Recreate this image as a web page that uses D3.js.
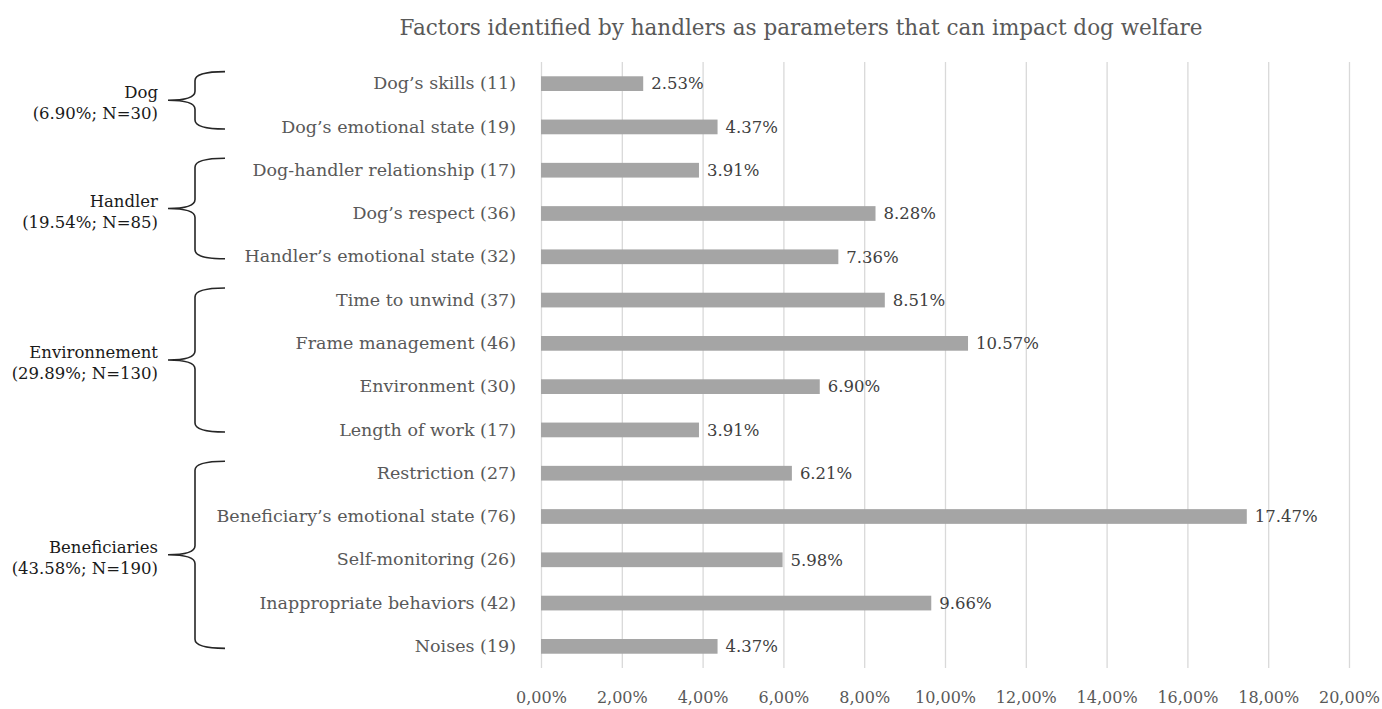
<!DOCTYPE html>
<html lang="en">
<head>
  <meta charset="UTF-8">
  <title>Dog welfare factors</title>
  <style>
    body { margin: 0; background: #fff; }
    text { font-family: 'DejaVu Serif', 'Liberation Serif', serif; }
  </style>
</head>
<body>
  <svg id="mainsvg" width="1382" height="709"></svg>
  <script src="https://cdn.jsdelivr.net/npm/d3@7"></script>
  <script>
    // categories, top to bottom
    const categories = [
      'Dog’s skills', 'Dog’s emotional state',
      'Dog-handler relationship', 'Dog’s respect', 'Handler’s emotional state',
      'Time to unwind', 'Frame management', 'Environment', 'Length of work',
      'Restriction', 'Beneficiary’s emotional state', 'Self-monitoring',
      'Inappropriate behaviors', 'Noises'
    ]
    const counts = [11, 19, 17, 36, 32, 37, 46, 30, 17, 27, 76, 26, 42, 19]
    const percents = [2.53, 4.37, 3.91, 8.28, 7.36, 8.51, 10.57, 6.90, 3.91, 6.21, 17.47, 5.98, 9.66, 4.37]

    // groups (brackets on the left)
    const groupNames = ['Dog', 'Handler', 'Environnement', 'Beneficiaries']
    const groupPercents = [6.90, 19.54, 29.89, 43.58]
    const groupN = [30, 85, 130, 190]
    const groupSizes = [2, 3, 4, 5]

    const xTicks = [0, 2, 4, 6, 8, 10, 12, 14, 16, 18, 20]
    const title = 'Factors identified by handlers as parameters that can impact dog welfare'

    const svg = d3.select('#mainsvg')
    const margin = { top: 62, right: 33, bottom: 41, left: 541 }
    const width = +svg.attr('width')
    const height = +svg.attr('height')

    const labels = categories.map((c, i) => `${c} (${counts[i]})`)

    const x = d3.scaleLinear().domain([0, 20]).range([margin.left, width - margin.right])
    const y = d3.scaleBand().domain(labels)
      .range([margin.top, height - margin.bottom])
      .paddingInner(0.66).paddingOuter(0.33)

    const comma = d3.formatLocale({ decimal: ',', thousands: '.', grouping: [3], currency: ['', ''] })
    const tickFmt = v => comma.format('.2f')(v) + '%'

    // grid + x axis
    const xAxis = svg.append('g')
      .attr('transform', `translate(0, ${height - margin.bottom})`)
      .call(d3.axisBottom(x).tickValues(xTicks).tickFormat(tickFmt)
        .tickSize(-(height - margin.bottom - margin.top)).tickPadding(24))
    xAxis.select('.domain').remove()
    xAxis.selectAll('line').attr('stroke', '#d9d9d9').attr('stroke-width', 1.3)
    xAxis.selectAll('text').attr('fill', '#595959').attr('font-size', '16px')
      .style('font-family', "'DejaVu Serif', serif")

    // bars
    svg.append('g').selectAll('rect')
      .data(labels)
      .join('rect')
      .attr('x', x(0))
      .attr('y', d => y(d))
      .attr('width', (d, i) => x(percents[i]) - x(0))
      .attr('height', y.bandwidth())
      .attr('fill', '#a5a5a5')

    // value labels
    svg.append('g').selectAll('text')
      .data(labels)
      .join('text')
      .attr('x', (d, i) => x(percents[i]) + 8)
      .attr('y', d => y(d) + y.bandwidth() / 2)
      .attr('dy', '0.35em')
      .attr('fill', '#404040')
      .attr('font-size', '16.5px')
      .text((d, i) => percents[i].toFixed(2) + '%')

    // category axis
    const yAxis = svg.append('g')
      .attr('transform', `translate(${margin.left}, 0)`)
      .call(d3.axisLeft(y).tickSize(0).tickPadding(25))
    yAxis.select('.domain').remove()
    yAxis.selectAll('text').attr('fill', '#595959').attr('font-size', '17.5px')
      .style('font-family', "'DejaVu Serif', serif")

    // brackets + group labels
    let start = 0
    groupNames.forEach((name, gi) => {
      const first = labels[start]
      const last = labels[start + groupSizes[gi] - 1]
      start += groupSizes[gi]
      const y0 = y(first) + y.bandwidth() / 2 - 12
      const y1 = y(last) + y.bandwidth() / 2 + 2
      const ym = (y0 + y1) / 2
      const xt = 168, xv = 195, xe = 225, r = 9
      const p = d3.path()
      p.moveTo(xe, y0)
      p.quadraticCurveTo(xv, y0, xv, y0 + r)
      p.lineTo(xv, ym - r)
      p.quadraticCurveTo(xv, ym, xt, ym)
      p.quadraticCurveTo(xv, ym, xv, ym + r)
      p.lineTo(xv, y1 - r)
      p.quadraticCurveTo(xv, y1, xe, y1)
      svg.append('path').attr('d', p.toString())
        .attr('fill', 'none').attr('stroke', '#262626').attr('stroke-width', 1.6)

      const t = svg.append('text')
        .attr('text-anchor', 'end')
        .attr('fill', '#1a1a1a')
        .attr('font-size', '16.5px')
      t.append('tspan').attr('x', 158).attr('y', ym - 2).text(name)
      t.append('tspan').attr('x', 158).attr('y', ym + 19)
        .text(`(${groupPercents[gi].toFixed(2)}%; N=${groupN[gi]})`)
    })

    // title
    svg.append('text')
      .attr('x', 801)
      .attr('y', 35)
      .attr('text-anchor', 'middle')
      .attr('fill', '#595959')
      .attr('font-size', '21.5px')
      .text(title)
  </script>
</body>
</html>
